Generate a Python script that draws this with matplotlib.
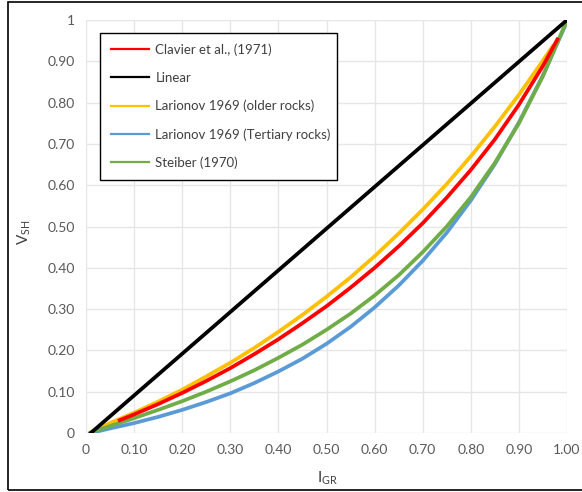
import matplotlib
matplotlib.use("Agg")
import matplotlib.pyplot as plt
from matplotlib.patches import Rectangle

# ---- data ----
i_gr = [0.01, 0.05, 0.10, 0.15, 0.20, 0.25, 0.30, 0.35, 0.40, 0.45, 0.50,
        0.55, 0.60, 0.65, 0.70, 0.75, 0.80, 0.85, 0.90, 0.95, 1.00]

clavier_x = [0.07, 0.10, 0.15, 0.20, 0.25, 0.30, 0.35, 0.40, 0.45, 0.50, 0.55,
             0.60, 0.65, 0.70, 0.75, 0.80, 0.85, 0.90, 0.95, 0.98]
clavier_y = [0.031, 0.045, 0.070, 0.097, 0.126, 0.157, 0.191, 0.227, 0.266, 0.307, 0.352,
             0.400, 0.452, 0.508, 0.570, 0.637, 0.711, 0.795, 0.889, 0.953]

linear_x = [0.01, 1.00]
linear_y = [0.00, 1.00]

lar_old_x = [0.01, 0.05, 0.10, 0.15, 0.20, 0.25, 0.30, 0.35, 0.40, 0.45, 0.50,
             0.55, 0.60, 0.65, 0.70, 0.75, 0.80, 0.85, 0.90, 0.95, 0.97]
lar_old_y = [0.002, 0.024, 0.049, 0.076, 0.105, 0.137, 0.170, 0.206, 0.245, 0.286, 0.330,
             0.377, 0.428, 0.483, 0.541, 0.603, 0.670, 0.742, 0.819, 0.902, 0.936]

lar_ter_y = [0.000, 0.011, 0.024, 0.039, 0.056, 0.075, 0.096, 0.121, 0.149, 0.180, 0.216,
             0.257, 0.304, 0.357, 0.417, 0.485, 0.563, 0.651, 0.752, 0.866, 0.996]

steiber_y = [0.001, 0.017, 0.036, 0.056, 0.077, 0.100, 0.125, 0.152, 0.182, 0.214, 0.250,
             0.289, 0.333, 0.382, 0.438, 0.500, 0.571, 0.654, 0.750, 0.864, 1.000]

x_ticks = [0, 0.1, 0.2, 0.3, 0.4, 0.5, 0.6, 0.7, 0.8, 0.9, 1.0]
x_labels = ["0", "0.10", "0.20", "0.30", "0.40", "0.50", "0.60", "0.70", "0.80", "0.90", "1.00"]
y_ticks = [0, 0.1, 0.2, 0.3, 0.4, 0.5, 0.6, 0.7, 0.8, 0.9, 1.0]
y_labels = ["0", "0.10", "0.20", "0.30", "0.40", "0.50", "0.60", "0.70", "0.80", "0.90", "1"]

plt.rcParams['font.family'] = ['Lato', 'DejaVu Sans']
plt.rcParams['mathtext.fontset'] = 'custom'
plt.rcParams['mathtext.rm'] = 'Lato'

W, H = 582, 492
fig = plt.figure(figsize=(W / 100, H / 100), dpi=100)
fig.patch.set_facecolor('white')

# outer frame of the chart area (no right edge in the crop)
fig.patches.append(Rectangle((8 / W, 1 - 490 / H), 1.0, (490 - 2) / H,
                             transform=fig.transFigure, fill=False,
                             edgecolor='black', linewidth=1.2))

ax = fig.add_axes([86 / W, 1 - 433 / H, (567 - 86) / W, (433 - 20) / H])
ax.set_xlim(0, 1)
ax.set_ylim(0, 1)

lw = 2.7
ax.plot(clavier_x, clavier_y, color='#FF0000', lw=lw, label='Clavier et al., (1971)', zorder=4)
ax.plot(linear_x, linear_y, color='#000000', lw=lw, label='Linear', zorder=6)
ax.plot(lar_old_x, lar_old_y, color='#FFC000', lw=lw, label='Larionov 1969 (older rocks)', zorder=3)
ax.plot(i_gr, lar_ter_y, color='#5B9BD5', lw=lw, label='Larionov 1969 (Tertiary rocks)', zorder=2)
ax.plot(i_gr, steiber_y, color='#70AD47', lw=lw, label='Steiber (1970)', zorder=3)

ax.set_xticks(x_ticks)
ax.set_xticklabels(x_labels)
ax.set_yticks(y_ticks)
ax.set_yticklabels(y_labels)
ax.tick_params(length=0, labelsize=10, labelcolor='#595959')
ax.tick_params(axis='x', pad=8)
ax.tick_params(axis='y', pad=8)

ax.grid(color='#E6E6E6', linewidth=1.0)
ax.set_axisbelow(True)
for spine in ax.spines.values():
    spine.set_visible(False)

fig.text(24 / W, 1 - 232 / H, r'V$_{\mathregular{SH}}$', rotation=90, fontsize=11,
         color='#404040', ha='center', va='center')
fig.text(327 / W, 1 - 478 / H, r'I$_{\mathregular{GR}}$', fontsize=11,
         color='#404040', ha='center', va='center')

# legend box: top-left at (100, 33) px, right edge at 337 px
leg_h = 0.01
leg = ax.legend(loc='upper left',
                bbox_to_anchor=(100 / W, 1 - 33 / H - leg_h, (337 - 100) / W, leg_h),
                bbox_transform=fig.transFigure, mode='expand', borderaxespad=0,
                frameon=True, fancybox=False, edgecolor='black', framealpha=1,
                fontsize=9.5, handlelength=2.9, handletextpad=0.5,
                labelspacing=1.2, borderpad=0.8, labelcolor='#404040')
leg.get_frame().set_linewidth(1.0)
for line in leg.get_lines():
    line.set_linewidth(1.6)

fig.savefig('out.png', dpi=100, facecolor='white')
